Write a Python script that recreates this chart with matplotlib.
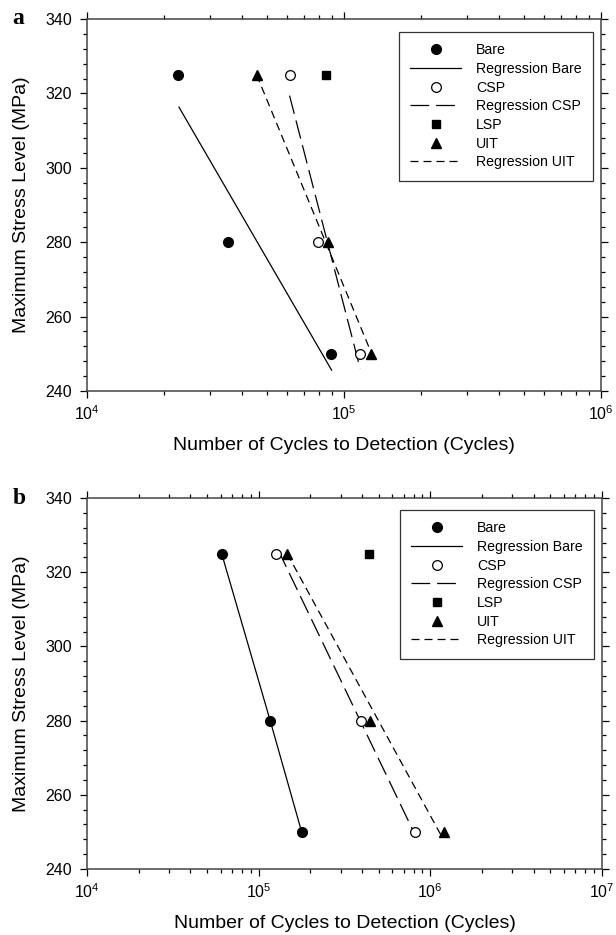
import matplotlib
matplotlib.use('Agg')
import matplotlib.pyplot as plt
from matplotlib.ticker import LogLocator, MultipleLocator, LogFormatterMathtext

plt.rcParams['font.family'] = ['Liberation Sans', 'DejaVu Sans']
plt.rcParams['mathtext.fontset'] = 'custom'
plt.rcParams['mathtext.rm'] = 'Liberation Sans'

stress = [325, 280, 250]

# panel a
a_bare = [22650, 35300, 89000]
a_csp = [61400, 79300, 115600]
a_lsp = [84900]
a_uit = [45700, 86500, 127000]
a_reg_bare_x = [22800, 89500]
a_reg_bare_y = [316.3, 245.6]
a_reg_csp_x = [61400, 115600]
a_reg_csp_y = [319.4, 246.0]
a_reg_uit_x = [45700, 125000]
a_reg_uit_y = [325.0, 251.8]

# panel b
b_bare = [60900, 116700, 178000]
b_csp = [125600, 396000, 816000]
b_lsp = [438000]
b_uit = [146600, 446000, 1194000]
b_reg_bare_x = [60900, 116700, 178000]
b_reg_bare_y = [325, 280, 250]
b_reg_csp_x = [129800, 794000]
b_reg_csp_y = [326.0, 250.3]
b_reg_uit_x = [146600, 1180000]
b_reg_uit_y = [325.0, 248.3]

fig = plt.figure(figsize=(6.16, 9.35), dpi=100)
W, H = 616, 935
ax1 = fig.add_axes([87 / W, 1 - 391 / H, 514 / W, 372 / H])
ax2 = fig.add_axes([87 / W, 1 - 869 / H, 515 / W, 371 / H])


def draw(ax, bare, csp, lsp, uit, rb, rc, ru, xlim, letter, legy):
    ax.plot(bare, stress, 'o', color='black', ms=7, label='Bare', zorder=5)
    ax.plot(rb[0], rb[1], '-', color='black', lw=0.9, label='Regression Bare')
    ax.plot(csp, stress, 'o', mfc='white', mec='black', ms=7, mew=0.9,
            label='CSP', zorder=5)
    ax.plot(rc[0], rc[1], color='black', lw=0.9, dashes=(15, 5.5),
            label='Regression CSP')
    ax.plot(lsp, [325], 's', color='black', ms=6, label='LSP', zorder=5)
    ax.plot(uit, stress, '^', color='black', ms=7, label='UIT', zorder=5)
    ax.plot(ru[0], ru[1], color='black', lw=0.9, dashes=(6.4, 4),
            label='Regression UIT')
    ax.set_xscale('log')
    ax.set_xlim(*xlim)
    ax.set_ylim(240, 340)
    ax.yaxis.set_major_locator(MultipleLocator(20))
    ax.yaxis.set_minor_locator(MultipleLocator(4))
    ax.xaxis.set_major_locator(LogLocator(base=10, numticks=10))
    ax.xaxis.set_minor_locator(LogLocator(base=10, subs=range(2, 10), numticks=10))
    ax.xaxis.set_major_formatter(LogFormatterMathtext())
    ax.tick_params(which='both', direction='out', top=True, right=True,
                   labelsize=11.5, width=0.9)
    ax.tick_params(which='major', length=5)
    ax.tick_params(axis='x', which='major', pad=4.5)
    ax.tick_params(axis='y', which='major', pad=6)
    ax.tick_params(which='minor', length=3)
    for s in ax.spines.values():
        s.set_linewidth(1.1)
        s.set_color('#444444')
    ax.set_xlabel('Number of Cycles to Detection (Cycles)', fontsize=14, labelpad=10)
    ax.set_ylabel('Maximum Stress Level (MPa)', fontsize=14, labelpad=11)
    leg = ax.legend(loc='upper right', bbox_to_anchor=(0.9844, legy), fontsize=10.2,
                    frameon=True, fancybox=False, edgecolor='black',
                    handlelength=3.6, handletextpad=1.05, labelspacing=0.33,
                    borderpad=0.8, numpoints=1, borderaxespad=0)
    leg.get_frame().set_linewidth(0.9)
    ax.text(-0.145, 1.0, letter, transform=ax.transAxes, fontsize=17,
            fontweight='bold', family=['Liberation Serif'], va='center', ha='left')


draw(ax1, a_bare, a_csp, a_lsp, a_uit,
     (a_reg_bare_x, a_reg_bare_y), (a_reg_csp_x, a_reg_csp_y),
     (a_reg_uit_x, a_reg_uit_y), (1e4, 1e6), 'a', 0.965)
draw(ax2, b_bare, b_csp, b_lsp, b_uit,
     (b_reg_bare_x, b_reg_bare_y), (b_reg_csp_x, b_reg_csp_y),
     (b_reg_uit_x, b_reg_uit_y), (1e4, 1e7), 'b', 0.9677)

fig.savefig('out.png', dpi=100)
